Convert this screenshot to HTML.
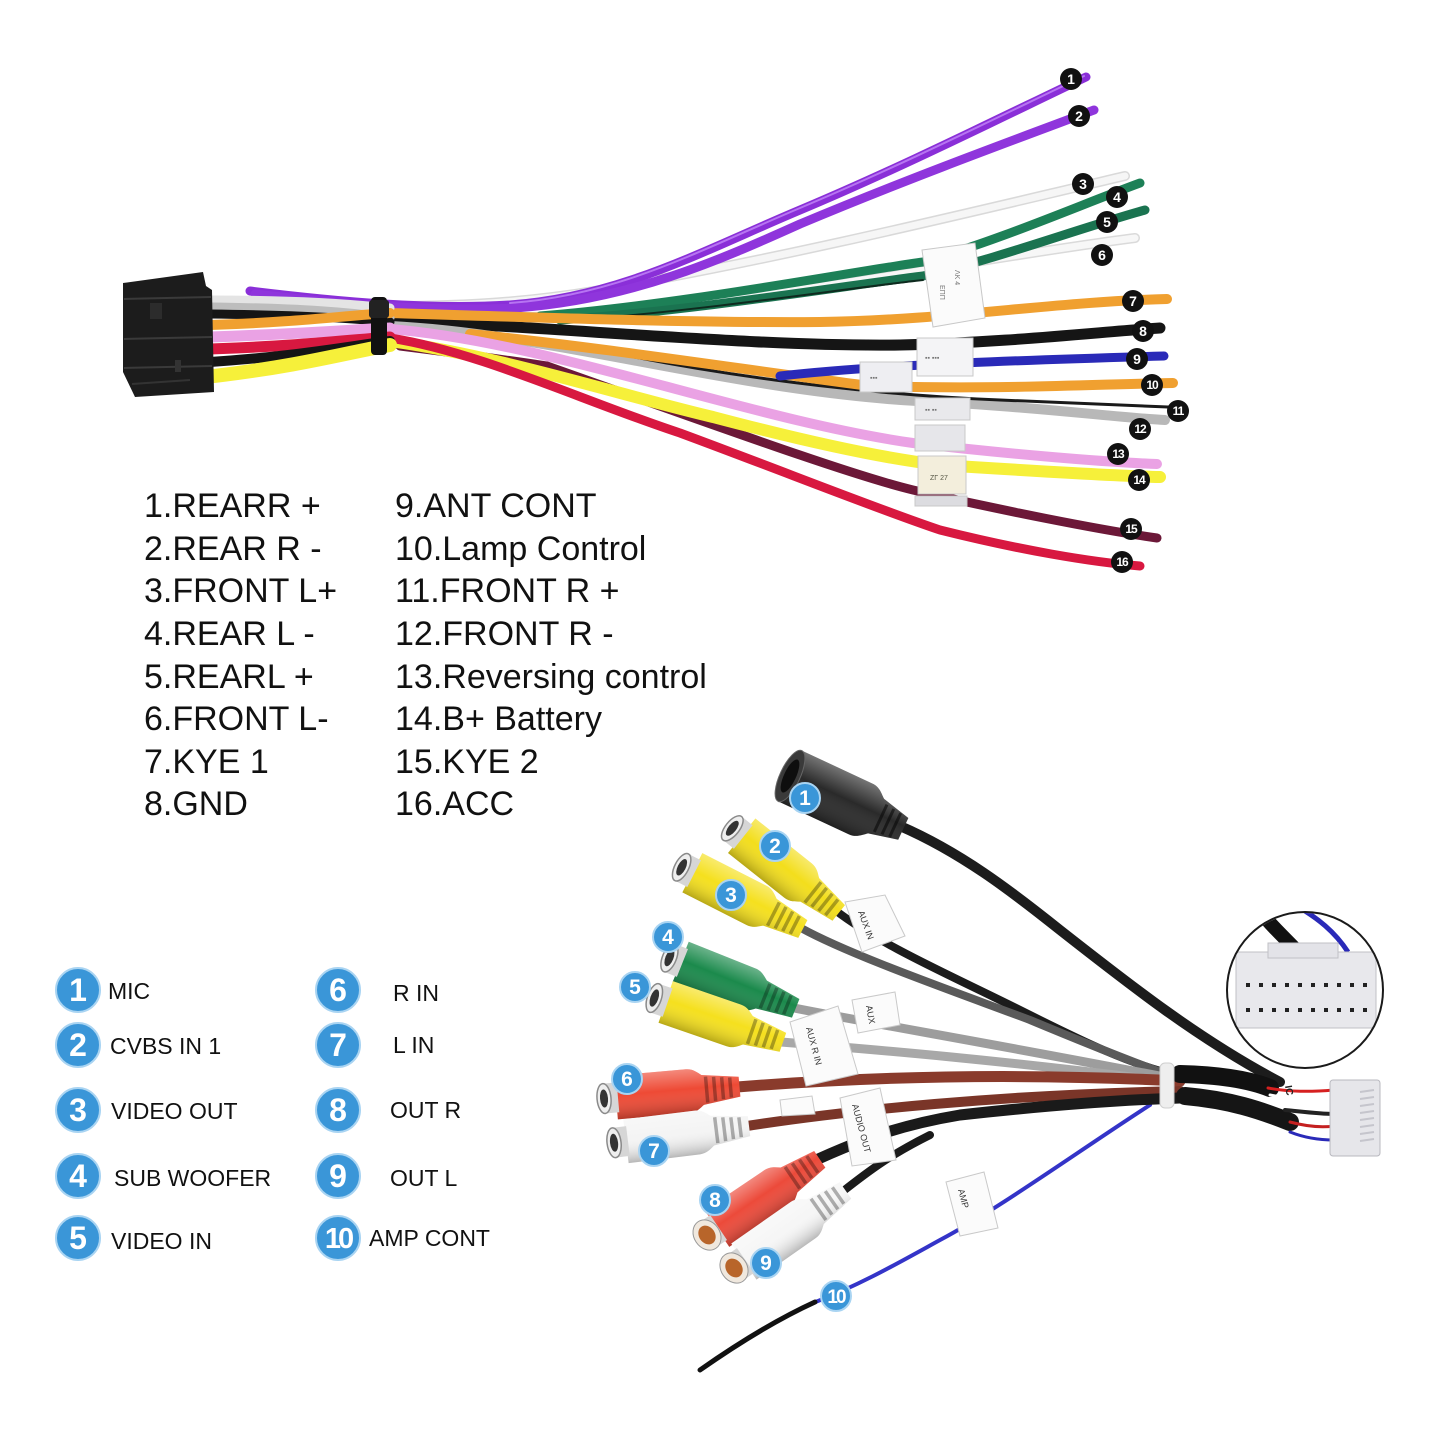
<!DOCTYPE html>
<html><head><meta charset="utf-8">
<style>
html,body{margin:0;padding:0;background:#fff;}
svg{display:block;}
text{font-family:"Liberation Sans","Noto Sans CJK SC",sans-serif;}
</style></head>
<body>
<svg width="1440" height="1440" viewBox="0 0 1440 1440" xmlns="http://www.w3.org/2000/svg">
<defs>
  <linearGradient id="shade" x1="0" y1="0" x2="0" y2="1">
    <stop offset="0" stop-color="#fff" stop-opacity="0.35"/>
    <stop offset="0.45" stop-color="#fff" stop-opacity="0"/>
    <stop offset="1" stop-color="#000" stop-opacity="0.25"/>
  </linearGradient>
  <clipPath id="inset"><circle cx="1305" cy="990" r="77"/></clipPath>
  <g id="rca">
    <path d="M6,-22 L78,-22 C85,-22 89,-18 93,-15 L130,-10 L130,10 L93,15 C89,18 85,22 78,22 L6,22 Z" fill="currentColor"/>
    <path d="M6,-22 L78,-22 C85,-22 89,-18 93,-15 L130,-10 L130,10 L93,15 C89,18 85,22 78,22 L6,22 Z" fill="url(#shade)"/>
    <g stroke="#000" stroke-opacity="0.3" stroke-width="3.5">
      <line x1="97" y1="-13" x2="97" y2="13"/><line x1="105" y1="-12" x2="105" y2="12"/>
      <line x1="113" y1="-11" x2="113" y2="11"/><line x1="121" y1="-10" x2="121" y2="10"/>
    </g>
    <rect x="-6" y="-15" width="14" height="30" fill="#d6d6d6"/>
    <ellipse cx="-6" cy="0" rx="7" ry="15" fill="#eee" stroke="#8a8a8a" stroke-width="1.5"/>
    <ellipse cx="-6" cy="0" rx="4" ry="9" fill="#333"/>
  </g>
</defs>
<rect width="1440" height="1440" fill="#fff"/>

<!-- ================= TOP HARNESS ================= -->
<g fill="none" stroke-linecap="round">
  <path d="M390,306 C480,306 540,300 600,290 C800,255 1000,205 1125,176" stroke="#d9d9d9" stroke-width="10"/>
  <path d="M390,306 C480,306 540,300 600,290 C800,255 1000,205 1125,176" stroke="#f6f6f6" stroke-width="7"/>
  <path d="M390,318 C500,318 560,318 620,312 C800,295 1000,255 1135,238" stroke="#dadada" stroke-width="10"/>
  <path d="M390,318 C500,318 560,318 620,312 C800,295 1000,255 1135,238" stroke="#f7f7f7" stroke-width="7"/>
  <path d="M250,291 C340,302 430,310 510,305 C620,297 700,252 800,210 C900,168 1000,118 1086,77" stroke="#8a2fd8" stroke-width="9"/>
  <path d="M255,294 C340,304 430,312 515,308 C630,300 720,260 800,224 C900,182 1000,145 1094,110" stroke="#8f35dc" stroke-width="9"/>
  <path d="M510,303 C620,295 700,250 800,208 C900,166 1000,116 1084,76" stroke="#b774f2" stroke-width="2"/>
  <path d="M540,316 C680,305 850,272 923,262 C1000,240 1080,205 1140,183" stroke="#1d8057" stroke-width="9"/>
  <path d="M560,320 C700,310 850,285 923,276 C1000,258 1080,228 1145,210" stroke="#1a7350" stroke-width="9"/>
  <path d="M600,318 C720,308 850,288 923,280" stroke="#0e2a1e" stroke-width="2"/>
  <path d="M390,321 C550,326 750,347 900,345 C1000,343 1100,332 1160,328" stroke="#151515" stroke-width="11"/>
  <path d="M390,326 C560,334 750,396 940,402 C1050,408 1120,418 1165,420" stroke="#b8b8b8" stroke-width="10"/>
  <path d="M600,350 C750,382 900,396 1000,400 C1100,404 1150,406 1168,407" stroke="#1a1a1a" stroke-width="3"/>
  <path d="M470,334 C600,347 760,372 870,386 C1000,390 1100,384 1173,383" stroke="#f0a030" stroke-width="10"/>
  <path d="M780,376 C850,368 950,362 1164,356" stroke="#2a2ab8" stroke-width="9"/>
  <path d="M390,313 C550,318 700,323 820,322 C950,320 1050,302 1167,299" stroke="#f0a030" stroke-width="10"/>
  <path d="M390,329 C550,342 750,420 913,443 C1000,453 1100,462 1157,464" stroke="#eaa2e4" stroke-width="10"/>
  <path d="M400,346 C480,356 520,362 547,366 C700,420 850,475 913,490 C1000,510 1100,530 1157,538" stroke="#6c1838" stroke-width="9"/>
  <path d="M390,341 C500,356 620,395 713,417 C800,440 880,458 940,465 C1050,472 1120,476 1160,477" stroke="#f6f03a" stroke-width="12"/>
  <path d="M390,338 C480,352 580,400 680,433 C780,470 880,510 940,530 C1020,550 1090,562 1140,566" stroke="#d81840" stroke-width="9"/>

  <path d="M210,300 C300,300 350,304 390,308" stroke="#e4e4e4" stroke-width="9"/>
  <path d="M210,307 C300,308 350,312 390,318" stroke="#bdbdbd" stroke-width="9"/>
  <path d="M210,314 C300,315 350,318 390,322" stroke="#151515" stroke-width="9"/>
  <path d="M210,325 C300,322 340,316 390,313" stroke="#f0a030" stroke-width="10"/>
  <path d="M210,337 C300,334 350,330 390,328" stroke="#eaa2e4" stroke-width="11"/>
  <path d="M210,349 C300,346 350,340 390,337" stroke="#d81840" stroke-width="11"/>
  <path d="M210,362 C300,356 350,346 390,341" stroke="#151515" stroke-width="10"/>
  <path d="M214,376 C300,366 350,352 390,345" stroke="#f6f03a" stroke-width="14"/>
</g>

<polygon points="123,283 203,272 206,286 212,290 214,392 135,397 123,372" fill="#1c1c1c"/>
<g stroke="#3a3a3a" stroke-width="2">
  <line x1="124" y1="299" x2="211" y2="297"/>
  <line x1="124" y1="339" x2="212" y2="337"/>
  <line x1="124" y1="368" x2="212" y2="366"/>
</g>
<rect x="150" y="303" width="12" height="16" fill="#2c2c2c"/>
<rect x="175" y="360" width="6" height="12" fill="#333"/>
<line x1="132" y1="384" x2="190" y2="380" stroke="#333" stroke-width="2"/>

<rect x="371" y="297" width="16" height="58" rx="4" fill="#111"/>
<rect x="369" y="300" width="20" height="18" rx="3" fill="#222"/>

<g stroke="#c8c8c8" stroke-width="1">
  <polygon points="922,250 975,243 985,318 933,327" fill="#fbfbfb"/>
  <rect x="917" y="338" width="56" height="38" fill="#f4f4f6"/>
  <rect x="860" y="362" width="52" height="30" fill="#eeeef2"/>
  <rect x="915" y="398" width="55" height="22" fill="#e9e9ec"/>
  <rect x="915" y="425" width="50" height="26" fill="#e6e6ea"/>
  <rect x="918" y="456" width="48" height="38" fill="#f3eedc"/>
  <rect x="915" y="496" width="52" height="10" fill="#dcdce0"/>
</g>
<g fill="#777" font-size="7">
  <text x="955" y="270" transform="rotate(90 955 270)">ΛΚ 4</text>
  <text x="940" y="285" transform="rotate(90 940 285)">ΕΠΠ</text>
  <text x="925" y="360">▪▪ ▪▪▪</text>
  <text x="870" y="380">▪▪▪</text>
  <text x="925" y="412">▪▪ ▪▪</text>
  <text x="930" y="480" fill="#554">ZΓ 27</text>
</g>

<g font-size="14" font-weight="bold" fill="#fff" text-anchor="middle">
  <g fill="#111">
    <circle cx="1071" cy="79" r="11"/><circle cx="1079" cy="116" r="11"/>
    <circle cx="1083" cy="184" r="11"/><circle cx="1117" cy="197" r="11"/>
    <circle cx="1107" cy="222" r="11"/><circle cx="1102" cy="255" r="11"/>
    <circle cx="1133" cy="301" r="11"/><circle cx="1143" cy="331" r="11"/>
    <circle cx="1137" cy="359" r="11"/><circle cx="1152" cy="385" r="11"/>
    <circle cx="1178" cy="411" r="11"/><circle cx="1140" cy="429" r="11"/>
    <circle cx="1118" cy="454" r="11"/><circle cx="1139" cy="480" r="11"/>
    <circle cx="1131" cy="529" r="11"/><circle cx="1122" cy="562" r="11"/>
  </g>
  <text x="1071" y="84">1</text><text x="1079" y="121">2</text>
  <text x="1083" y="189">3</text><text x="1117" y="202">4</text>
  <text x="1107" y="227">5</text><text x="1102" y="260">6</text>
  <text x="1133" y="306">7</text><text x="1143" y="336">8</text>
  <text x="1137" y="364">9</text>
  <g font-size="12" letter-spacing="-1">
  <text x="1152" y="389">10</text><text x="1178" y="415">11</text>
  <text x="1140" y="433">12</text><text x="1118" y="458">13</text>
  <text x="1139" y="484">14</text><text x="1131" y="533">15</text>
  <text x="1122" y="566">16</text>
  </g>
</g>

<g font-size="34" fill="#111">
  <text x="144" y="517">1.REARR +</text>
  <text x="144" y="560">2.REAR R -</text>
  <text x="144" y="602">3.FRONT L+</text>
  <text x="144" y="645">4.REAR L -</text>
  <text x="144" y="688">5.REARL +</text>
  <text x="144" y="730">6.FRONT L-</text>
  <text x="144" y="773">7.KYE 1</text>
  <text x="144" y="815">8.GND</text>
  <text x="395" y="517">9.ANT CONT</text>
  <text x="395" y="560">10.Lamp Control</text>
  <text x="395" y="602">11.FRONT R +</text>
  <text x="395" y="645">12.FRONT R -</text>
  <text x="395" y="688">13.Reversing control</text>
  <text x="395" y="730">14.B+ Battery</text>
  <text x="395" y="773">15.KYE 2</text>
  <text x="395" y="815">16.ACC</text>
</g>

<!-- ================= LEGEND ================= -->
<g>
  <g fill="#3a96d8" stroke="#a9d4f2" stroke-width="2">
    <circle cx="78" cy="990" r="22"/><circle cx="78" cy="1045" r="22"/>
    <circle cx="78" cy="1110" r="22"/><circle cx="78" cy="1176" r="22"/>
    <circle cx="78" cy="1238" r="22"/>
    <circle cx="338" cy="990" r="22"/><circle cx="338" cy="1045" r="22"/>
    <circle cx="338" cy="1110" r="22"/><circle cx="338" cy="1176" r="22"/>
    <circle cx="338" cy="1238" r="22"/>
  </g>
  <g fill="#fff" font-size="32" font-weight="bold" text-anchor="middle">
    <text x="78" y="1001">1</text><text x="78" y="1056">2</text>
    <text x="78" y="1121">3</text><text x="78" y="1187">4</text>
    <text x="78" y="1249">5</text>
    <text x="338" y="1001">6</text><text x="338" y="1056">7</text>
    <text x="338" y="1121">8</text><text x="338" y="1187">9</text>
    <text x="338" y="1248" font-size="29" letter-spacing="-3">10</text>
  </g>
  <g font-size="23" fill="#111">
    <text x="108" y="999">MIC</text>
    <text x="110" y="1054">CVBS IN 1</text>
    <text x="111" y="1119">VIDEO OUT</text>
    <text x="114" y="1186">SUB WOOFER</text>
    <text x="111" y="1249">VIDEO IN</text>
    <text x="393" y="1001">R IN</text>
    <text x="393" y="1053">L IN</text>
    <text x="390" y="1118">OUT R</text>
    <text x="390" y="1186">OUT L</text>
    <text x="369" y="1246">AMP CONT</text>
  </g>
</g>

<!-- ================= BOTTOM HARNESS ================= -->
<g fill="none" stroke-linecap="round">
  <path d="M813,1303 C860,1285 900,1262 940,1240 C1000,1208 1080,1150 1150,1105" stroke="#3434c8" stroke-width="4"/>
  <path d="M700,1370 C740,1342 780,1318 815,1302" stroke="#111" stroke-width="5"/>
  <path d="M900,826 C960,852 1010,890 1060,930 C1130,985 1200,1040 1280,1082" stroke="#1c1c1c" stroke-width="10"/>
  <path d="M835,910 C880,945 950,975 1020,1010 C1080,1040 1130,1065 1180,1076" stroke="#1c1c1c" stroke-width="8"/>
  <path d="M801,928 C850,955 950,990 1030,1020 C1090,1045 1140,1065 1180,1079" stroke="#5a5a5a" stroke-width="8"/>
  <path d="M794,1008 C880,1025 1000,1045 1180,1080" stroke="#9d9d9d" stroke-width="9"/>
  <path d="M781,1042 C880,1050 1000,1060 1180,1083" stroke="#a8a8a8" stroke-width="9"/>
  <path d="M737,1087 C850,1078 1000,1072 1180,1081" stroke="#8a3b2c" stroke-width="11"/>
  <path d="M747,1126 C850,1110 1000,1095 1180,1091" stroke="#7a3528" stroke-width="10"/>
  <path d="M842,1192 C870,1170 890,1155 930,1135" stroke="#1a1a1a" stroke-width="8"/>
  <path d="M816,1160 C860,1140 900,1125 960,1115 C1050,1105 1120,1100 1180,1098" stroke="#1a1a1a" stroke-width="11"/>
  <path d="M1180,1074 C1220,1075 1250,1080 1270,1088" stroke="#111" stroke-width="18"/>
  <path d="M1185,1096 C1230,1100 1260,1110 1290,1122" stroke="#151515" stroke-width="18"/>
  <path d="M1268,1088 C1290,1092 1310,1092 1334,1090" stroke="#d62020" stroke-width="3"/>
  <path d="M1270,1095 C1295,1100 1315,1102 1334,1102" stroke="#fff" stroke-width="3"/>
  <path d="M1285,1110 C1305,1112 1320,1114 1334,1114" stroke="#222" stroke-width="4"/>
  <path d="M1290,1122 C1305,1126 1320,1128 1334,1126" stroke="#c42020" stroke-width="3"/>
  <path d="M1290,1132 C1305,1138 1320,1140 1334,1140" stroke="#2a2ab8" stroke-width="3"/>
</g>
<rect x="1160" y="1063" width="14" height="45" rx="5" fill="#eeeeee" stroke="#cfcfcf"/>
<text x="1285" y="1086" font-size="10" font-weight="bold" fill="#222" transform="rotate(80 1285 1086)">IC</text>
<rect x="1330" y="1080" width="50" height="76" rx="3" fill="#e6e6ea" stroke="#b8b8bf"/>
<g stroke="#c5c5cc" stroke-width="2">
  <line x1="1360" y1="1092" x2="1374" y2="1090"/><line x1="1360" y1="1099" x2="1374" y2="1097"/>
  <line x1="1360" y1="1106" x2="1374" y2="1104"/><line x1="1360" y1="1113" x2="1374" y2="1111"/>
  <line x1="1360" y1="1120" x2="1374" y2="1118"/><line x1="1360" y1="1127" x2="1374" y2="1125"/>
  <line x1="1360" y1="1134" x2="1374" y2="1132"/><line x1="1360" y1="1141" x2="1374" y2="1139"/>
</g>

<g transform="translate(790,776) rotate(25)">
  <path d="M0,-28 L78,-28 C86,-28 90,-23 95,-19 L125,-12 L125,12 L95,19 C90,23 86,28 78,28 L0,28 Z" fill="#2a2a2a"/>
  <path d="M0,-28 L78,-28 C86,-28 90,-23 95,-19 L125,-12 L125,12 L95,19 C90,23 86,28 78,28 L0,28 Z" fill="url(#shade)"/>
  <g stroke="#000" stroke-opacity="0.5" stroke-width="3">
    <line x1="100" y1="-15" x2="100" y2="15"/><line x1="108" y1="-14" x2="108" y2="14"/>
    <line x1="116" y1="-13" x2="116" y2="13"/>
  </g>
  <ellipse cx="0" cy="0" rx="10" ry="28" fill="#3a3a3a" stroke="#666"/>
  <ellipse cx="0" cy="0" rx="6" ry="18" fill="#0e0e0e"/>
</g>
<use href="#rca" transform="translate(737,832) rotate(38.5)" color="#f3de1c"/>
<use href="#rca" transform="translate(687,870) rotate(27)" color="#f5e01e"/>
<use href="#rca" transform="translate(675,960) rotate(21.8)" color="#1b8a4c"/>
<use href="#rca" transform="translate(660,1000) rotate(19)" color="#f5e01e"/>
<use href="#rca" transform="translate(610,1098) rotate(-5)" color="#ee4a35"/>
<use href="#rca" transform="translate(620,1142) rotate(-7)" color="#f4f4f4"/>
<use href="#rca" transform="translate(712,1232) rotate(-34)" color="#ec4a3a"/>
<use href="#rca" transform="translate(739,1265) rotate(-35)" color="#f6f6f6"/>
<ellipse cx="707" cy="1235" rx="13" ry="16" fill="#f0e8de" stroke="#999" transform="rotate(-34 707 1235)"/>
<ellipse cx="707" cy="1235" rx="8" ry="10" fill="#b8652a" transform="rotate(-34 707 1235)"/>
<ellipse cx="734" cy="1268" rx="13" ry="16" fill="#f0e8de" stroke="#999" transform="rotate(-35 734 1268)"/>
<ellipse cx="734" cy="1268" rx="8" ry="10" fill="#b8652a" transform="rotate(-35 734 1268)"/>

<g fill="#fbfbfb" stroke="#c9c9c9">
  <polygon points="845,902 885,895 905,936 862,952"/>
  <polygon points="852,1000 895,992 900,1025 858,1033"/>
  <polygon points="790,1022 838,1006 858,1074 806,1086"/>
  <polygon points="840,1098 880,1088 896,1160 852,1166"/>
  <polygon points="780,1100 812,1096 815,1114 782,1116"/>
  <polygon points="946,1182 984,1172 998,1228 960,1236"/>
</g>
<g fill="#333" font-size="9">
  <text x="858" y="912" transform="rotate(70 858 912)">AUX IN</text>
  <text x="866" y="1006" transform="rotate(80 866 1006)">AUX</text>
  <text x="806" y="1028" transform="rotate(75 806 1028)">AUX R IN</text>
  <text x="852" y="1105" transform="rotate(75 852 1105)">AUDIO OUT</text>
  <text x="958" y="1190" transform="rotate(75 958 1190)">AMP</text>
</g>

<!-- inset circle -->
<circle cx="1305" cy="990" r="78" fill="#fff"/>
<g clip-path="url(#inset)">
  <path d="M1255,905 C1270,925 1285,938 1298,952" stroke="#111" stroke-width="14" fill="none"/>
  <path d="M1295,905 C1318,918 1335,932 1348,952" stroke="#2a2ab8" stroke-width="5" fill="none"/>
  <rect x="1236" y="952" width="140" height="76" rx="3" fill="#e8e8ec" stroke="#c0c0c6"/>
  <rect x="1268" y="943" width="70" height="15" fill="#e3e3e8" stroke="#c0c0c6"/>
  <g fill="#222">
    <rect x="1246" y="983" width="4" height="4"/><rect x="1259" y="983" width="4" height="4"/>
    <rect x="1272" y="983" width="4" height="4"/><rect x="1285" y="983" width="4" height="4"/>
    <rect x="1298" y="983" width="4" height="4"/><rect x="1311" y="983" width="4" height="4"/>
    <rect x="1324" y="983" width="4" height="4"/><rect x="1337" y="983" width="4" height="4"/>
    <rect x="1350" y="983" width="4" height="4"/><rect x="1363" y="983" width="4" height="4"/>
    <rect x="1246" y="1008" width="4" height="4"/><rect x="1259" y="1008" width="4" height="4"/>
    <rect x="1272" y="1008" width="4" height="4"/><rect x="1285" y="1008" width="4" height="4"/>
    <rect x="1298" y="1008" width="4" height="4"/><rect x="1311" y="1008" width="4" height="4"/>
    <rect x="1324" y="1008" width="4" height="4"/><rect x="1337" y="1008" width="4" height="4"/>
    <rect x="1350" y="1008" width="4" height="4"/><rect x="1363" y="1008" width="4" height="4"/>
  </g>
</g>
<circle cx="1305" cy="990" r="78" fill="none" stroke="#1a1a1a" stroke-width="2"/>

<g fill="#3a96d8" stroke="#a9d4f2" stroke-width="2">
  <circle cx="805" cy="798" r="15"/><circle cx="775" cy="846" r="15"/>
  <circle cx="731" cy="895" r="15"/><circle cx="668" cy="937" r="15"/>
  <circle cx="635" cy="987" r="15"/><circle cx="627" cy="1079" r="15"/>
  <circle cx="654" cy="1151" r="15"/><circle cx="715" cy="1200" r="15"/>
  <circle cx="766" cy="1263" r="15"/><circle cx="836" cy="1296" r="15"/>
</g>
<g fill="#fff" font-size="21" font-weight="bold" text-anchor="middle">
  <text x="805" y="805">1</text><text x="775" y="853">2</text>
  <text x="731" y="902">3</text><text x="668" y="944">4</text>
  <text x="635" y="994">5</text><text x="627" y="1086">6</text>
  <text x="654" y="1158">7</text><text x="715" y="1207">8</text>
  <text x="766" y="1270">9</text>
  <text x="836" y="1303" font-size="19" letter-spacing="-2">10</text>
</g>
</svg>
</body></html>
